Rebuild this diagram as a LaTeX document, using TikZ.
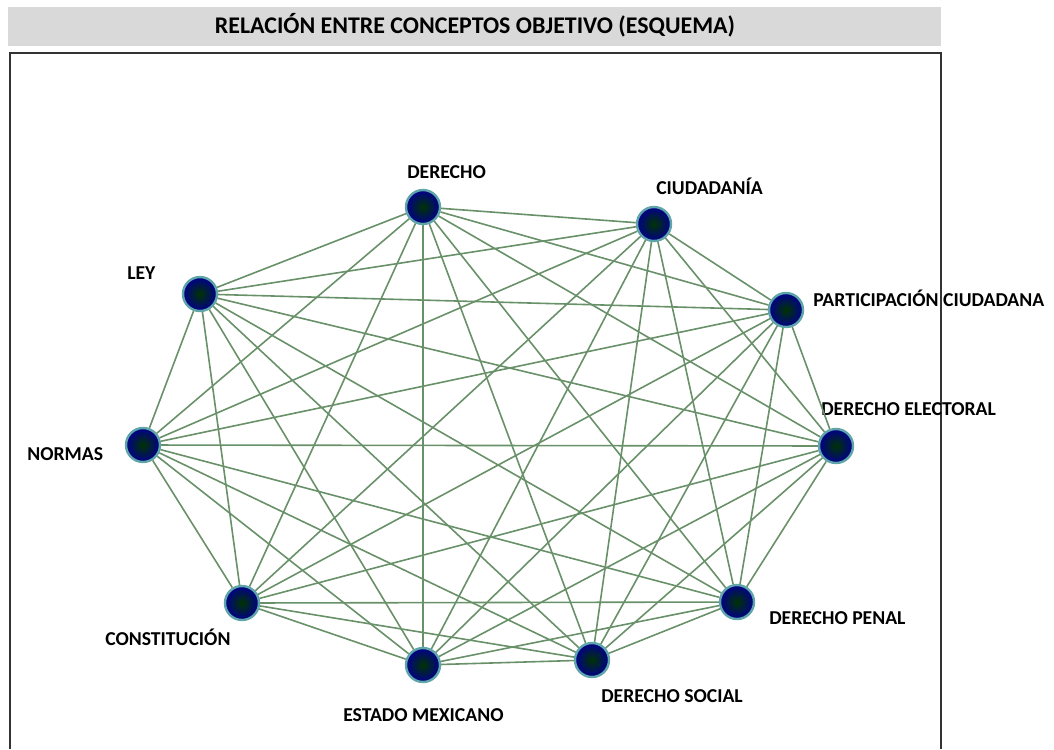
\documentclass[tikz,border=0pt]{standalone}
\usepackage{fontspec}
\setmainfont{Carlito}
\definecolor{edgegreen}{RGB}{105,145,105}
\definecolor{ringteal}{RGB}{95,165,170}
\definecolor{bargray}{RGB}{217,217,217}

\tikzstyle{vertex} = [circle,minimum size=8.5mm,inner sep=0pt,draw=ringteal,line width=0.6mm,inner color=green!20!black,outer color=blue!55!black]
\tikzstyle{tag} = [font=\fontsize{14}{16}\selectfont\bfseries,inner sep=0pt]
\tikzstyle{link} = [edgegreen,line width=0.4mm]

\begin{document}
\begin{tikzpicture}[x=0.25mm,y=-0.25mm]
	\useasboundingbox (0,0) rectangle (1054,749);
	\fill[bargray] (8,7) rectangle (941,46);
	\node[font=\fontsize{17}{19}\selectfont\bfseries] (title) at (475,25) {RELACIÓN ENTRE CONCEPTOS OBJETIVO (ESQUEMA)};
	\draw[black!80,line width=0.4mm] (10,749) -- (10,53) -- (941,53) -- (941,749);
	
	\node[vertex] (n1) at (423,207) {};
	\node[vertex] (n2) at (654,224) {};
	\node[vertex] (n3) at (786,310) {};
	\node[vertex] (n4) at (836,446) {};
	\node[vertex] (n5) at (737,602) {};
	\node[vertex] (n6) at (592,660) {};
	\node[vertex] (n7) at (423,665) {};
	\node[vertex] (n8) at (242,603) {};
	\node[vertex] (n9) at (143,445) {};
	\node[vertex] (n10) at (200,294) {};
	
	\node[tag,anchor=west] (l1) at (407,172) {DERECHO};
	\node[tag,anchor=west] (l2) at (656,186) {CIUDADANÍA};
	\node[tag,anchor=west] (l3) at (813,298) {PARTICIPACIÓN CIUDADANA};
	\node[tag,anchor=west] (l4) at (821,409) {DERECHO ELECTORAL};
	\node[tag,anchor=west] (l5) at (769,618) {DERECHO PENAL};
	\node[tag,anchor=west] (l6) at (601,696) {DERECHO SOCIAL};
	\node[tag,anchor=west] (l7) at (343,715) {ESTADO MEXICANO};
	\node[tag,anchor=west] (l8) at (105,637) {CONSTITUCIÓN};
	\node[tag,anchor=west] (l9) at (27,454) {NORMAS};
	\node[tag,anchor=west] (l10) at (127,273) {LEY};
	
	\draw[link] (n1) -- (n2);
	\draw[link] (n1) -- (n3);
	\draw[link] (n1) -- (n4);
	\draw[link] (n1) -- (n5);
	\draw[link] (n1) -- (n6);
	\draw[link] (n1) -- (n7);
	\draw[link] (n1) -- (n8);
	\draw[link] (n1) -- (n9);
	\draw[link] (n1) -- (n10);
	\draw[link] (n2) -- (n3);
	\draw[link] (n2) -- (n4);
	\draw[link] (n2) -- (n5);
	\draw[link] (n2) -- (n6);
	\draw[link] (n2) -- (n7);
	\draw[link] (n2) -- (n8);
	\draw[link] (n2) -- (n9);
	\draw[link] (n2) -- (n10);
	\draw[link] (n3) -- (n4);
	\draw[link] (n3) -- (n5);
	\draw[link] (n3) -- (n6);
	\draw[link] (n3) -- (n7);
	\draw[link] (n3) -- (n8);
	\draw[link] (n3) -- (n9);
	\draw[link] (n3) -- (n10);
	\draw[link] (n4) -- (n5);
	\draw[link] (n4) -- (n6);
	\draw[link] (n4) -- (n7);
	\draw[link] (n4) -- (n8);
	\draw[link] (n4) -- (n9);
	\draw[link] (n4) -- (n10);
	\draw[link] (n5) -- (n6);
	\draw[link] (n5) -- (n7);
	\draw[link] (n5) -- (n8);
	\draw[link] (n5) -- (n9);
	\draw[link] (n5) -- (n10);
	\draw[link] (n6) -- (n7);
	\draw[link] (n6) -- (n8);
	\draw[link] (n6) -- (n9);
	\draw[link] (n6) -- (n10);
	\draw[link] (n7) -- (n8);
	\draw[link] (n7) -- (n9);
	\draw[link] (n7) -- (n10);
	\draw[link] (n8) -- (n9);
	\draw[link] (n8) -- (n10);
	\draw[link] (n9) -- (n10);
\end{tikzpicture}
\end{document}
